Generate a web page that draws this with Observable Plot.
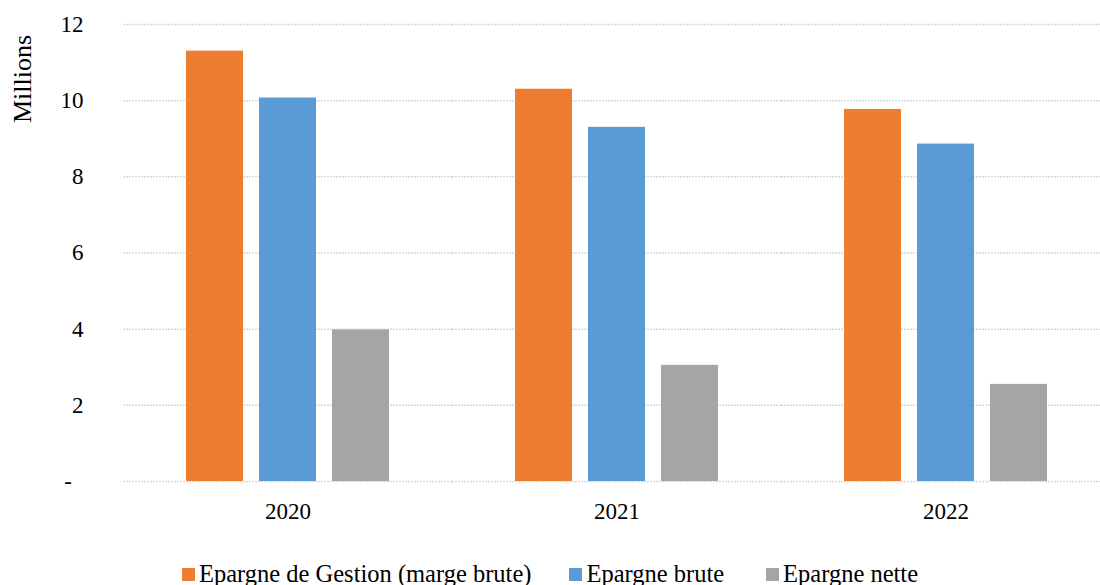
<!DOCTYPE html>
<html><head><meta charset="utf-8">
<script src="https://cdn.jsdelivr.net/npm/d3@7"></script>
<script src="https://cdn.jsdelivr.net/npm/@observablehq/plot@0.6"></script>
<style>
body{margin:0;background:#fff;position:relative;width:1100px;height:585px;overflow:hidden;}
#legend{position:absolute;left:0;top:562px;width:1100px;display:flex;justify-content:center;font-size:24.5px;color:#000;line-height:24px;}
.item{display:flex;align-items:center;}
.sw{width:13px;height:13px;margin-right:4px;display:inline-block}
#ylab{position:absolute;left:23px;top:79px;transform:translate(-50%,-50%) rotate(-90deg);font-size:26px;white-space:nowrap;color:#000;}
</style></head><body>
<div id="chart"></div>
<div id="ylab" style="font-family:'Liberation Serif'">Millions</div>
<div id="legend"></div>
<script>
const years = ["2020", "2021", "2022"];
const series = ["Epargne de Gestion (marge brute)", "Epargne brute", "Epargne nette"];
const gestion = [11.30, 10.30, 9.77];
const brute = [10.07, 9.30, 8.86];
const nette = [3.98, 3.05, 2.55];
const colors = ["#ED7D31", "#5B9BD5", "#A5A5A5"];
const yTicks = [0, 2, 4, 6, 8, 10, 12];
const FONT = "'Liberation Serif', 'Times New Roman', serif";

const values = [gestion, brute, nette];
const data = [];
years.forEach((yr, i) => {
  values.forEach((s, j) => data.push({year: yr, series: series[j], value: s[i]}));
});

const plot = Plot.plot({
  width: 1100, height: 530,
  marginLeft: 122, marginRight: 0, marginTop: 24, marginBottom: 49,
  style: {fontFamily: FONT, fontSize: "23px", color: "#000", background: "#fff"},
  fx: {domain: years, padding: 0, range: [122, 1111], label: null, tickSize: 0, tickPadding: 21},
  x: {domain: series, paddingInner: 0.219, paddingOuter: 0.86, axis: null},
  y: {domain: [0, 12], ticks: yTicks, tickFormat: d => d === 0 ? "-\u2002" : String(d), tickSize: 0, tickPadding: 40, label: null},
  color: {domain: series, range: colors},
  marks: [
    Plot.ruleY(yTicks, {stroke: "#d9d9d9", strokeWidth: 1.5, strokeDasharray: "2,1"}),
    Plot.barY(data, {fx: "year", x: "series", y: "value", fill: "series"})
  ]
});
plot.querySelectorAll("text, g").forEach(t => { t.style.fontFamily = FONT; });
document.getElementById("chart").appendChild(plot);

const legend = document.getElementById("legend");
legend.style.fontFamily = FONT;
const gaps = [38, 42, 0];
series.forEach((s, j) => {
  const item = document.createElement("div");
  item.className = "item";
  item.style.marginRight = gaps[j] + "px";
  const sw = document.createElement("span");
  sw.className = "sw";
  sw.style.background = colors[j];
  const t = document.createElement("span");
  t.textContent = s;
  t.style.fontFamily = FONT;
  item.appendChild(sw);
  item.appendChild(t);
  legend.appendChild(item);
});
</script>
</body></html>
